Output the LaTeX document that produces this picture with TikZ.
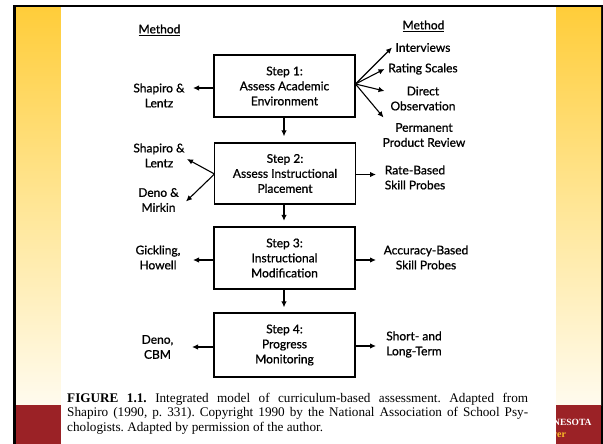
\documentclass[tikz,border=0pt]{standalone}
\usepackage{fontspec}
\setmainfont{Liberation Serif}
\newfontfamily\diagfont{Lato}[FakeBold=0.9]
\usetikzlibrary{arrows.meta}

\definecolor{slidered}{RGB}{155,34,38}
\definecolor{goldtop}{RGB}{255,205,58}
\definecolor{goldmid}{RGB}{255,230,150}
\definecolor{goldlow}{RGB}{255,251,238}
\definecolor{goldtext}{RGB}{250,190,40}

\begin{document}
\begin{tikzpicture}[x=1pt,y=-1pt,
  stepbox/.style={draw, line width=1.3pt, minimum width=141pt, minimum height=62pt,
    align=center, inner sep=0pt, font=\diagfont\fontsize{12}{15}\selectfont},
  lbl/.style={align=center, inner sep=0pt, font=\diagfont\fontsize{12}{15}\selectfont},
  arr/.style={line width=1.1pt, -{Latex[length=6pt,width=5.5pt]}},
]
\useasboundingbox (0,0) rectangle (603,444);

% slide frame, side panels and footer bar
\fill[white] (0,0) rectangle (603,444);
\fill[black] (13,5) rectangle (603,444);
\shade[top color=goldtop, bottom color=goldlow, middle color=goldmid] (16,7.5) rectangle (601,405);
\fill[slidered] (16,405) rectangle (601,444);
\node[anchor=west, inner sep=0pt, text=white, font=\bfseries\fontsize{9.5}{10}\selectfont] (uni) at (553,422) {NESOTA};
\node[anchor=west, inner sep=0pt, text=goldtext, font=\bfseries\fontsize{10}{10}\selectfont] (tag) at (552,435) {ver};

% page
\fill[white] (61,7.5) rectangle (556,444);

% column headings
\node[lbl] (mleft) at (159.5,30) {\underline{Method}};
\node[lbl] (mright) at (423.5,26) {\underline{Method}};

% steps
\node[stepbox] (s1) at (284.5,86) {Step 1:\\Assess Academic\\Environment};
\node[stepbox, minimum height=61pt] (s2) at (285,173.5) {Step 2:\\Assess Instructional\\Placement};
\node[stepbox] (s3) at (284.5,258) {Step 3:\\Instructional\\Modification};
\node[stepbox, minimum height=64pt] (s4) at (284.5,345) {Step 4:\\Progress\\Monitoring};

% methods, left side
\node[lbl] (l1) at (159,95.5) {Shapiro \&\\Lentz};
\node[lbl] (l2a) at (159,155.5) {Shapiro \&\\Lentz};
\node[lbl] (l2b) at (158.5,200) {Deno \&\\Mirkin};
\node[lbl] (l3) at (158,257.5) {Gickling,\\Howell};
\node[lbl] (l4) at (157.5,347) {Deno,\\CBM};

% methods, right side
\node[lbl] (r1a) at (423,47.5) {Interviews};
\node[lbl] (r1b) at (423,69) {Rating Scales};
\node[lbl] (r1c) at (423,98.5) {Direct\\Observation};
\node[lbl] (r1d) at (424,135) {Permanent\\Product Review};
\node[lbl] (r2) at (415,177.5) {Rate-Based\\Skill Probes};
\node[lbl] (r3) at (426,257.5) {Accuracy-Based\\Skill Probes};
\node[lbl] (r4) at (414,344.5) {Short- and\\Long-Term};

% arrow end points
\coordinate (f1) at (355.5,84);
\coordinate (t1a) at (392,47.5);
\coordinate (t1b) at (384.5,69);
\coordinate (t1c) at (384.5,91);
\coordinate (t1d) at (383.5,117.5);
\coordinate (f2) at (214.5,174);
\coordinate (t2a) at (187,159);
\coordinate (t2b) at (186,201.5);
\coordinate (tl1) at (193,88);
\coordinate (tl3) at (193,260);
\coordinate (tl4) at (192,347);
\coordinate (tr2) at (376,174.5);
\coordinate (tr3) at (376,260);
\coordinate (tr4) at (376,346);

% connectors
\draw[arr] (s1.west |- tl1) -- (tl1);
\draw[arr] (f1) -- (t1a);
\draw[arr] (f1) -- (t1b);
\draw[arr] (f1) -- (t1c);
\draw[arr] (f1) -- (t1d);
\draw[arr] (f2) -- (t2a);
\draw[arr] (f2) -- (t2b);
\draw[arr] (s2.east |- tr2) -- (tr2);
\draw[arr] (s3.west |- tl3) -- (tl3);
\draw[arr] (s3.east |- tr3) -- (tr3);
\draw[arr] (s4.west |- tl4) -- (tl4);
\draw[arr] (s4.east |- tr4) -- (tr4);
\draw[arr, shorten >=6pt] (s1.south -| 284,0) -- (s2.north -| 284,0);
\draw[arr, shorten >=5.5pt] (s2.south -| 284,0) -- (s3.north -| 284,0);
\draw[arr, shorten >=5pt] (s3.south -| 284,0) -- (s4.north -| 284,0);

% caption
\node[anchor=north west, inner sep=0pt, text width=461pt, align=justify,
  font=\frenchspacing\fontsize{13.2}{14.5}\selectfont] (cap) at (67,393)
  {\textbf{FIGURE 1.1.} Integrated model of curriculum-based assessment. Adapted from\linebreak
   Shapiro (1990, p.~331). Copyright 1990 by the National Association of School Psy-\linebreak
   chologists. Adapted by permission of the author.};
\end{tikzpicture}
\end{document}
